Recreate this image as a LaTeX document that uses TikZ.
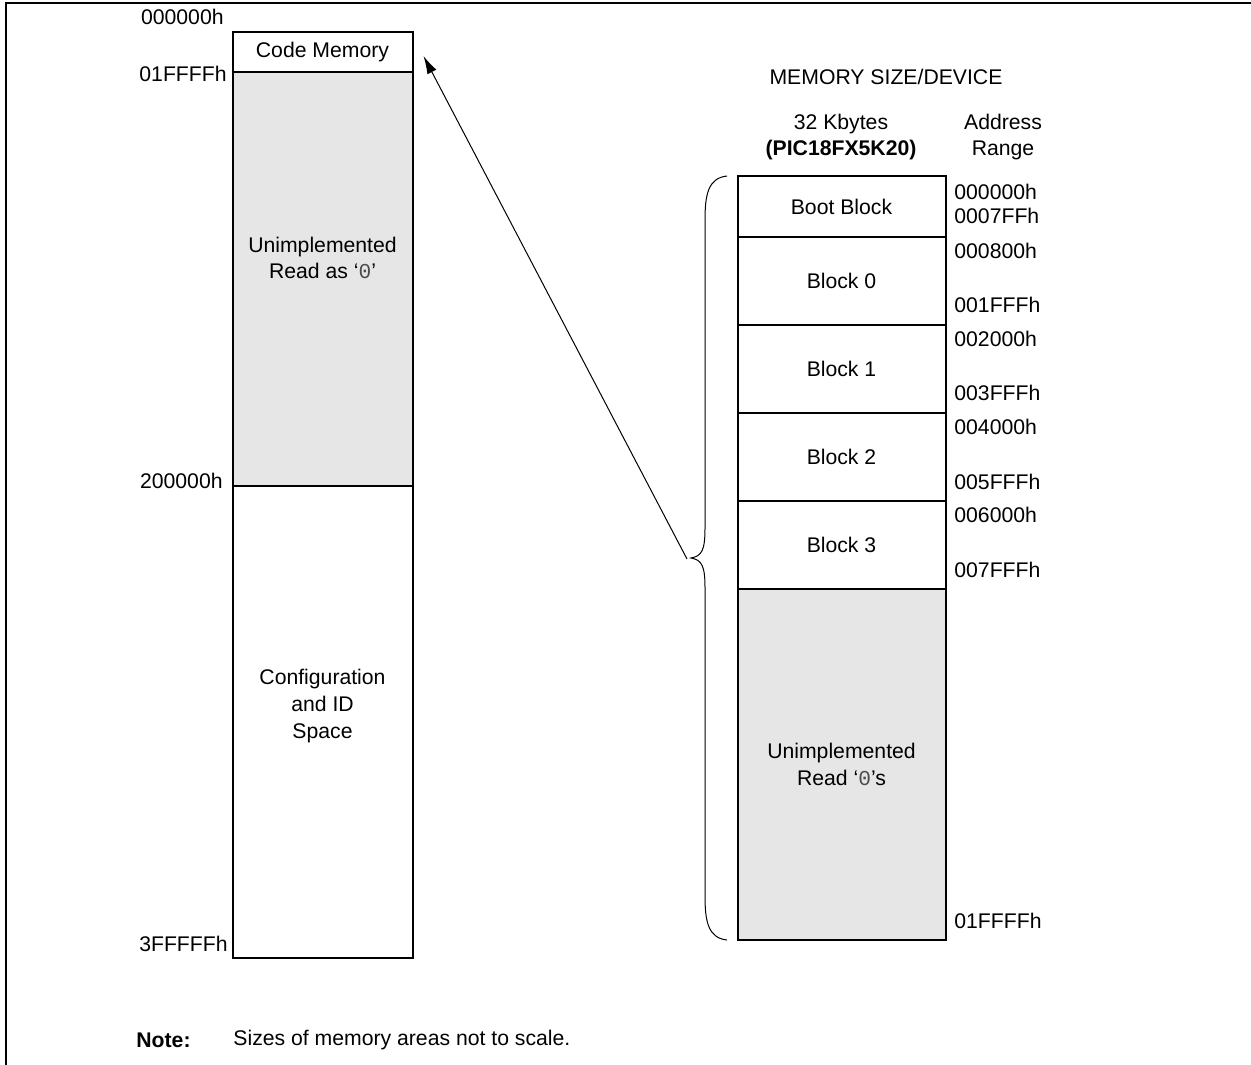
\documentclass[tikz,border=0pt]{standalone}
\usepackage{fontspec}
\setmainfont{Liberation Sans}
\setmonofont{Liberation Mono}
\usetikzlibrary{arrows.meta}
\definecolor{unimplgray}{RGB}{230,230,230}
\newcommand{\zerochar}{{\ttfamily\color{black!70}0}}
\tikzstyle{mem}=[rectangle,draw,line width=1pt,inner sep=0pt,align=center]
\tikzstyle{memleft}=[mem,minimum width=90pt]
\tikzstyle{memright}=[mem,minimum width=104pt]
\tikzstyle{addr}=[inner sep=0pt]
\tikzstyle{txt}=[inner sep=0pt,align=center]
\tikzstyle{pointer}=[-{Latex[length=9pt,width=5pt]},line width=0.5pt]

\begin{document}
\begin{tikzpicture}[x=0.5pt,y=-0.5pt,font=\fontsize{10.6}{13.3}\selectfont]
  \clip (0,0) rectangle (1251,1064);
  \draw[line width=1.2pt] (6,3) rectangle (1270,1080);

  \node[memleft,minimum height=20pt] (code) at (322.5,52) {Code Memory};
  \node[memleft,fill=unimplgray,minimum height=207pt] (unimp) at (322.5,279) {};
  \node[memleft,minimum height=236pt] (config) at (322.5,722) {};
  \node[txt] (unimptext) at (322.5,258) {Unimplemented\\Read as ‘\zerochar’};
  \node[txt] (configtext) at (322.5,706) {Configuration\\and ID\\Space};

  \node[addr,anchor=east] (a0) at (224,17) {000000h};
  \node[addr,anchor=east] (a1) at (227,74) {01FFFFh};
  \node[addr,anchor=east] (a2) at (223,481) {200000h};
  \node[addr,anchor=east] (a3) at (228,944) {3FFFFFh};

  \node[txt] (title) at (886,77) {MEMORY SIZE/DEVICE};
  \node[txt] (size) at (841,137) {32 Kbytes\\\textbf{(PIC18FX5K20)}};
  \node[txt] (range) at (1003,137) {Address\\Range};

  \node[memright,minimum height=30.5pt] (boot) at (841.5,206.5) {Boot Block};
  \node[memright,minimum height=44pt] (blk0) at (841.5,281) {Block 0};
  \node[memright,minimum height=44pt] (blk1) at (841.5,369) {Block 1};
  \node[memright,minimum height=44pt] (blk2) at (841.5,457) {Block 2};
  \node[memright,minimum height=44pt] (blk3) at (841.5,545) {Block 3};
  \node[memright,fill=unimplgray,minimum height=175.5pt] (unimpr) at (841.5,764.5) {Unimplemented\\Read ‘\zerochar’s};

  \node[addr,anchor=west] (r0) at (954,192) {000000h};
  \node[addr,anchor=west] (r1) at (954,216) {0007FFh};
  \node[addr,anchor=west] (r2) at (954,251) {000800h};
  \node[addr,anchor=west] (r3) at (954,305) {001FFFh};
  \node[addr,anchor=west] (r4) at (954,339) {002000h};
  \node[addr,anchor=west] (r5) at (954,393) {003FFFh};
  \node[addr,anchor=west] (r6) at (954,427) {004000h};
  \node[addr,anchor=west] (r7) at (954,482) {005FFFh};
  \node[addr,anchor=west] (r8) at (954,515) {006000h};
  \node[addr,anchor=west] (r9) at (954,570) {007FFFh};
  \node[addr,anchor=west] (r10) at (954,921) {01FFFFh};

  \draw[line width=0.5pt] (727,176) .. controls (708,178) and (705,195) .. (705,220)
    -- (705,528) .. controls (705,550) and (702,556) .. (691,558)
    .. controls (702,560) and (705,566) .. (705,588)
    -- (705,896) .. controls (705,921) and (708,938) .. (727,940);
  \coordinate (tip) at (687,559);
  \draw[pointer] (tip) -- ([shift={(5pt,-2pt)}]code.east);

  \node[addr,anchor=west] (note) at (136,1040) {\textbf{Note:}};
  \node[addr,anchor=west] (notetext) at (233,1040) {Sizes of memory areas not to scale.};
\end{tikzpicture}
\end{document}
